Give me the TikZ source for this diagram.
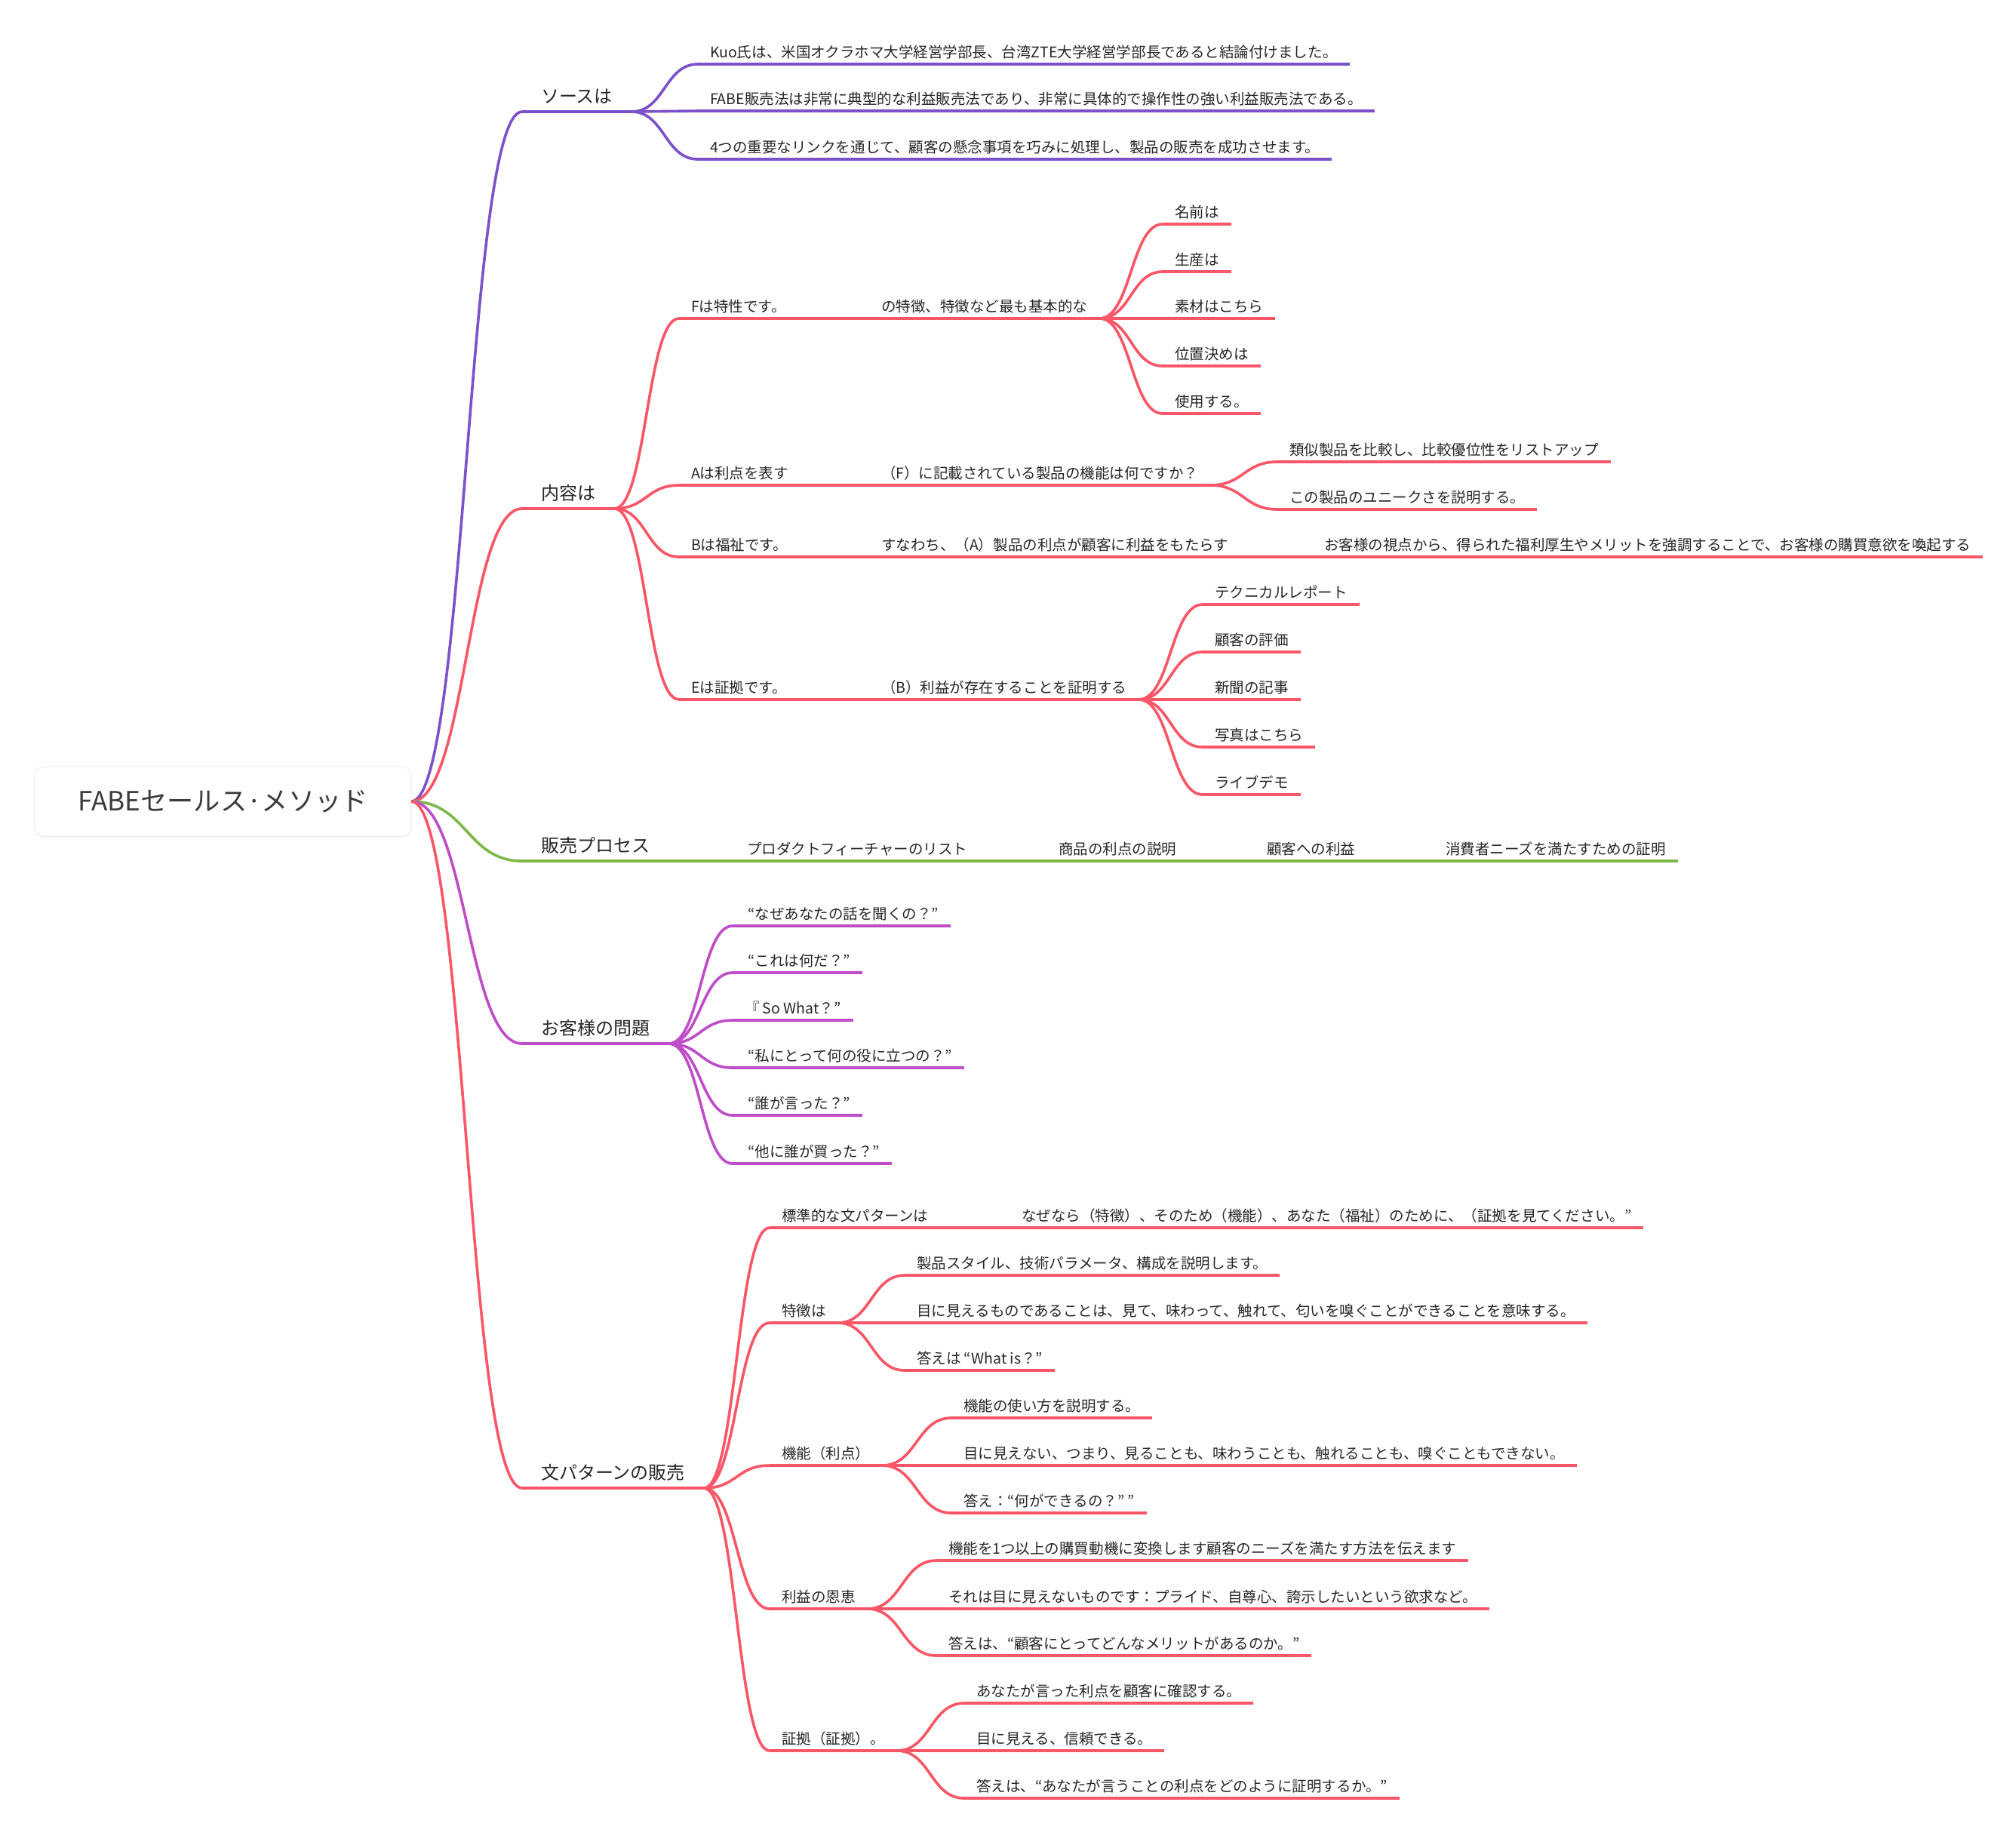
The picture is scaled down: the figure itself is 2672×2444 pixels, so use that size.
\documentclass[tikz,border=0pt]{standalone}
\usepackage{fontspec}
\setmainfont{Noto Sans CJK JP}
\usetikzlibrary{calc,shadows}
\definecolor{cpurple}{HTML}{7B52CC}
\definecolor{cred}{HTML}{F95667}
\definecolor{cgreen}{HTML}{7DB848}
\definecolor{cmagenta}{HTML}{BF4DC8}
\definecolor{ink}{HTML}{262626}
\tikzset{
  wire/.style={line width=0.036cm, draw=#1},
  branch/.style={to path={.. controls ($(\tikztostart)!0.5!(\tikztostart -| \tikztotarget)$) and ($(\tikztotarget)!0.5!(\tikztotarget -| \tikztostart)$) .. (\tikztotarget)}},
  leaf/.style={anchor=south west, inner xsep=0.16cm, inner ysep=0.09cm, outer sep=0pt, text depth=0pt, text=ink, font=\fontsize{5.55pt}{7pt}\selectfont},
  main/.style={leaf, inner xsep=0.25cm, inner ysep=0.12cm, font=\fontsize{6.83pt}{8pt}\selectfont},
  rootbox/.style={rounded corners=0.12cm, fill=white, draw=black!5, outer sep=0pt, minimum width=4.99cm, minimum height=0.92cm, text=ink!90, font=\fontsize{10pt}{12pt}\selectfont, drop shadow={opacity=0.06, shadow xshift=0cm, shadow yshift=-0.03cm}}
}
\begin{document}
\begin{tikzpicture}[x=0.01cm, y=-0.01cm]
  \useasboundingbox (0,0) rectangle (2672,2444);

  % root
  \node[rootbox] (root) at (295.5,1062) {FABEセールス·メソッド};

  % ソースは
  \node[main] (src) at (692,148) {ソースは};
  \node[leaf] (src1) at (925,85) {Kuo氏は、米国オクラホマ大学経営学部長、台湾ZTE大学経営学部長であると結論付けました。};
  \node[leaf] (src2) at (925,147) {FABE販売法は非常に典型的な利益販売法であり、非常に具体的で操作性の強い利益販売法である。};
  \node[leaf] (src3) at (925,211) {4つの重要なリンクを通じて、顧客の懸念事項を巧みに処理し、製品の販売を成功させます。};

  % 内容は
  \node[main] (cont) at (692,674) {内容は};
  \node[leaf] (fF) at (900,422) {Fは特性です。};
  \node[leaf] (fF1) at (1152,422) {の特徴、特徴など最も基本的な};
  \node[leaf] (fFa) at (1541,297) {名前は};
  \node[leaf] (fFb) at (1541,360) {生産は};
  \node[leaf] (fFc) at (1541,422) {素材はこちら};
  \node[leaf] (fFd) at (1541,485) {位置決めは};
  \node[leaf] (fFe) at (1541,548) {使用する。};
  \node[leaf] (fA) at (900,643) {Aは利点を表す};
  \node[leaf] (fA1) at (1152,643) {（F）に記載されている製品の機能は何ですか？};
  \node[leaf] (fAa) at (1693,612) {類似製品を比較し、比較優位性をリストアップ};
  \node[leaf] (fAb) at (1693,675) {この製品のユニークさを説明する。};
  \node[leaf] (fB) at (900,738) {Bは福祉です。};
  \node[leaf] (fB1) at (1152,738) {すなわち、（A）製品の利点が顧客に利益をもたらす};
  \node[leaf] (fB2) at (1739,738) {お客様の視点から、得られた福利厚生やメリットを強調することで、お客様の購買意欲を喚起する};
  \node[leaf] (fE) at (900,927) {Eは証拠です。};
  \node[leaf] (fE1) at (1152,927) {（B）利益が存在することを証明する};
  \node[leaf] (fEa) at (1594,801) {テクニカルレポート};
  \node[leaf] (fEb) at (1594,864) {顧客の評価};
  \node[leaf] (fEc) at (1594,927) {新聞の記事};
  \node[leaf] (fEd) at (1594,990) {写真はこちら};
  \node[leaf] (fEe) at (1594,1053) {ライブデモ};

  % 販売プロセス
  \node[main] (sale) at (692,1141) {販売プロセス};
  \node[leaf] (sale1) at (974,1141) {プロダクトフィーチャーのリスト};
  \node[leaf] (sale2) at (1387,1141) {商品の利点の説明};
  \node[leaf] (sale3) at (1663,1141) {顧客への利益};
  \node[leaf] (sale4) at (1900,1141) {消費者ニーズを満たすための証明};

  % お客様の問題
  \node[main] (cust) at (692,1383) {お客様の問題};
  \node[leaf] (cust1) at (971,1227) {\ “なぜあなたの話を聞くの？”};
  \node[leaf] (cust2) at (971,1289) {\ “これは何だ？”};
  \node[leaf] (cust3) at (971,1352) {『 So What？”};
  \node[leaf] (cust4) at (971,1415) {\ “私にとって何の役に立つの？”};
  \node[leaf] (cust5) at (971,1478) {\ “誰が言った？”};
  \node[leaf] (cust6) at (971,1542) {\ “他に誰が買った？”};

  % 文パターンの販売
  \node[main] (pat) at (692,1972) {文パターンの販売};
  \node[leaf] (pStd) at (1020,1627) {標準的な文パターンは};
  \node[leaf] (pStd1) at (1338,1627) {なぜなら（特徴）、そのため（機能）、あなた（福祉）のために、（証拠を見てください。”};
  \node[leaf] (pFea) at (1020,1753) {特徴は};
  \node[leaf] (pFea1) at (1199,1690) {製品スタイル、技術パラメータ、構成を説明します。};
  \node[leaf] (pFea2) at (1199,1753) {目に見えるものであることは、見て、味わって、触れて、匂いを嗅ぐことができることを意味する。};
  \node[leaf] (pFea3) at (1199,1816) {答えは “What is？”};
  \node[leaf] (pFun) at (1020,1942) {機能（利点）};
  \node[leaf] (pFun1) at (1261,1879) {機能の使い方を説明する。};
  \node[leaf] (pFun2) at (1261,1942) {目に見えない、つまり、見ることも、味わうことも、触れることも、嗅ぐこともできない。};
  \node[leaf] (pFun3) at (1261,2005) {答え：“何ができるの？” ”};
  \node[leaf] (pBen) at (1020,2132) {利益の恩恵};
  \node[leaf] (pBen1) at (1241,2068) {機能を1つ以上の購買動機に変換します顧客のニーズを満たす方法を伝えます};
  \node[leaf] (pBen2) at (1241,2132) {それは目に見えないものです：プライド、自尊心、誇示したいという欲求など。};
  \node[leaf] (pBen3) at (1241,2194) {答えは、“顧客にとってどんなメリットがあるのか。”};
  \node[leaf] (pEvi) at (1020,2320) {証拠（証拠）。};
  \node[leaf] (pEvi1) at (1278,2257) {あなたが言った利点を顧客に確認する。};
  \node[leaf] (pEvi2) at (1278,2320) {目に見える、信頼できる。};
  \node[leaf] (pEvi3) at (1278,2383) {答えは、“あなたが言うことの利点をどのように証明するか。”};

  % root branches
  \draw[wire=cpurple] (root.east) to[branch] (src.south west);
  \draw[wire=cred] (root.east) to[branch] (cont.south west);
  \draw[wire=cgreen] (root.east) to[branch] (sale.south west);
  \draw[wire=cmagenta] (root.east) to[branch] (cust.south west);
  \draw[wire=cred] (root.east) to[branch] (pat.south west);

  % underlines
  \foreach \n in {src,src1,src2,src3}
    \draw[wire=cpurple] (\n.south west) -- (\n.south east);
  \foreach \n in {cont,fF,fF1,fFa,fFb,fFc,fFd,fFe,fA,fA1,fAa,fAb,fB,fB1,fB2,fE,fE1,fEa,fEb,fEc,fEd,fEe,
                  pat,pStd,pStd1,pFea,pFea1,pFea2,pFea3,pFun,pFun1,pFun2,pFun3,pBen,pBen1,pBen2,pBen3,pEvi,pEvi1,pEvi2,pEvi3}
    \draw[wire=cred] (\n.south west) -- (\n.south east);
  \foreach \n in {sale,sale1,sale2,sale3,sale4}
    \draw[wire=cgreen] (\n.south west) -- (\n.south east);
  \foreach \n in {cust,cust1,cust2,cust3,cust4,cust5,cust6}
    \draw[wire=cmagenta] (\n.south west) -- (\n.south east);

  % connectors
  \foreach \a/\b in {src/src1,src/src2,src/src3}
    \draw[wire=cpurple] (\a.south east) to[branch] (\b.south west);
  \foreach \a/\b in {cont/fF,cont/fA,cont/fB,cont/fE,fF/fF1,fF1/fFa,fF1/fFb,fF1/fFc,fF1/fFd,fF1/fFe,
                     fA/fA1,fA1/fAa,fA1/fAb,fB/fB1,fB1/fB2,fE/fE1,fE1/fEa,fE1/fEb,fE1/fEc,fE1/fEd,fE1/fEe,
                     pat/pStd,pat/pFea,pat/pFun,pat/pBen,pat/pEvi,pStd/pStd1,pFea/pFea1,pFea/pFea2,pFea/pFea3,
                     pFun/pFun1,pFun/pFun2,pFun/pFun3,pBen/pBen1,pBen/pBen2,pBen/pBen3,pEvi/pEvi1,pEvi/pEvi2,pEvi/pEvi3}
    \draw[wire=cred] (\a.south east) to[branch] (\b.south west);
  \foreach \a/\b in {sale/sale1,sale1/sale2,sale2/sale3,sale3/sale4}
    \draw[wire=cgreen] (\a.south east) to[branch] (\b.south west);
  \foreach \a/\b in {cust/cust1,cust/cust2,cust/cust3,cust/cust4,cust/cust5,cust/cust6}
    \draw[wire=cmagenta] (\a.south east) to[branch] (\b.south west);
\end{tikzpicture}
\end{document}
